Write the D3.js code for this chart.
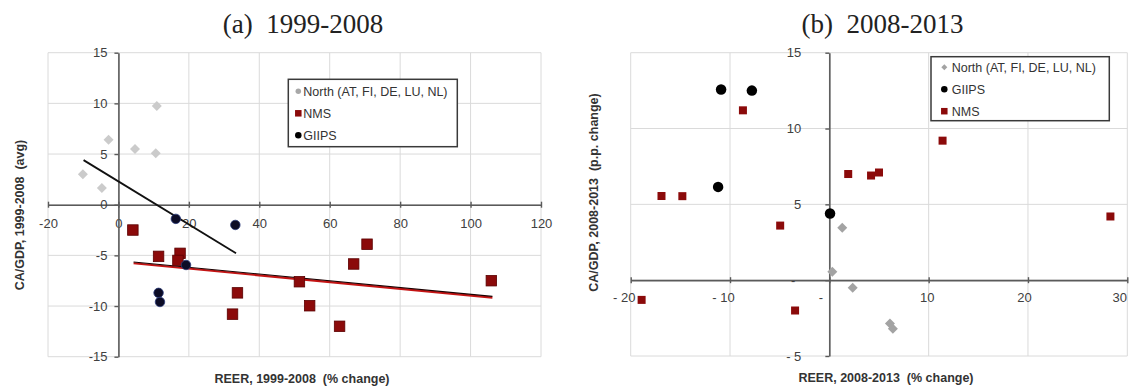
<!DOCTYPE html>
<html><head><meta charset="utf-8">
<script src="https://cdn.jsdelivr.net/npm/d3@7"></script>
<style>body{margin:0;background:#fff}svg{display:block}</style>
</head><body><svg id="c" width="1130" height="391"></svg>
<script>
// ---------- Panel (a) 1999-2008 ----------
const northA = [[-10.1,3.0],[-4.7,1.65],[-2.8,6.4],[4.7,5.5],[10.9,9.75],[10.6,5.07]];
const giipsA = [[16.3,-1.4],[33.2,-2.0],[19.2,-5.95],[11.4,-8.7],[11.8,-9.6]];
const nmsA = [[4.1,-2.5],[11.4,-5.1],[17.5,-4.8],[16.9,-5.5],[33.8,-8.7],[32.4,-10.8],
              [70.6,-3.9],[66.8,-5.85],[51.4,-7.6],[54.3,-9.97],[62.8,-12.0],[105.9,-7.5]];
const trendBlackA = [[-9.9,4.4],[33.4,-4.8]];
const trendRedA = [[4.3,-5.7],[106.2,-9.1]];
const xTicksA = [-20,0,20,40,60,80,100,120];
const yTicksA = [-15,-10,-5,0,5,10,15];
const xTickLabelsA = ["-20","0","20","40","60","80","100","120"];
const yTickLabelsA = ["-15","-10","-5","0","5","10","15"];
const legendA = ["North (AT, FI, DE, LU, NL)","NMS","GIIPS"];

// ---------- Panel (b) 2008-2013 ----------
const northB = [[1.3,3.45],[0.3,0.55],[2.35,-0.5],[6.1,-2.85],[6.4,-3.2]];
const giipsB = [[-10.9,12.57],[-7.8,12.5],[-11.2,6.15],[0.07,4.4]];
const nmsB = [[-8.7,11.2],[-16.9,5.55],[-14.8,5.54],[-4.95,3.6],[-18.9,-1.3],[-3.45,-2.0],
              [1.9,7.0],[4.2,6.9],[5.0,7.1],[11.4,9.2],[28.3,4.2]];
const xTicksB = [-20,-10,0,10,20,30];
const yTicksB = [-5,0,5,10,15];
const xTickLabelsB = ["- 20","- 10","-","10","20","30"];
const yTickLabelsB = ["- 5","-","5","10","15"];
const legendB = ["North (AT, FI, DE, LU, NL)","GIIPS","NMS"];

const svg = d3.select("#c");
svg.append("rect").attr("width",1130).attr("height",391).attr("fill","#fff");

const SANS = "'Liberation Sans', Arial, sans-serif";
const SERIF = "'Liberation Serif', 'DejaVu Serif', serif";

function marker(g, type, cx, cy, size, fill, stroke) {
  if (type === "square") {
    g.append("rect").attr("x", cx - size/2).attr("y", cy - size/2)
      .attr("width", size).attr("height", size).attr("fill", fill)
      .attr("stroke", stroke || "none").attr("stroke-width", 0.8);
  } else if (type === "circle") {
    g.append("circle").attr("cx", cx).attr("cy", cy).attr("r", size/2)
      .attr("fill", fill).attr("stroke", stroke || "none").attr("stroke-width", 0.8);
  } else {
    const h = size/2;
    g.append("path").attr("d", `M${cx},${cy-h}L${cx+h},${cy}L${cx},${cy+h}L${cx-h},${cy}Z`)
      .attr("fill", fill);
  }
}

function panel(cfg) {
  const x = d3.scaleLinear().domain(cfg.xDom).range(cfg.xRange);
  const y = d3.scaleLinear().domain(cfg.yDom).range(cfg.yRange);
  const g = svg.append("g");

  // gridlines
  g.selectAll(".gx").data(cfg.xGrid).join("line")
    .attr("x1", d => x(d)).attr("x2", d => x(d))
    .attr("y1", y(cfg.yDom[0])).attr("y2", y(cfg.yDom[1]))
    .attr("stroke", "#dadada").attr("stroke-width", 1);
  g.selectAll(".gy").data(cfg.yGrid).join("line")
    .attr("y1", d => y(d)).attr("y2", d => y(d))
    .attr("x1", x(cfg.xDom[0])).attr("x2", x(cfg.xDom[1]))
    .attr("stroke", "#dadada").attr("stroke-width", 1);

  // x axis through y = 0
  const xa = g.append("g").attr("transform", `translate(0,${y(0)})`)
    .call(d3.axisBottom(x).tickValues(cfg.xTicks).tickSizeOuter(0).tickSizeInner(3)
      .tickFormat((d,i) => cfg.xLabels[i]));
  xa.select(".domain").attr("stroke", "#5a5a5a").attr("stroke-width", 1.6);
  xa.selectAll(".tick line").attr("y1", -3).attr("y2", 3).attr("stroke", "#5a5a5a").attr("stroke-width", 1.4);
  xa.selectAll(".tick text").attr("y", cfg.xLabelY).attr("dy", 0)
    .attr("dx", (d,i) => cfg.xLabelDx ? cfg.xLabelDx[i] : 0)
    .attr("font-family", SANS).attr("font-size", 13).attr("fill", "#404040");

  // y axis through x = 0
  const ya = g.append("g").attr("transform", `translate(${x(0)},0)`)
    .call(d3.axisLeft(y).tickValues(cfg.yTicks).tickSizeOuter(0).tickSizeInner(4)
      .tickFormat((d,i) => cfg.yLabels[i]));
  ya.select(".domain").attr("stroke", "#5a5a5a").attr("stroke-width", 1.6);
  ya.selectAll(".tick line").attr("stroke", "#5a5a5a").attr("stroke-width", 1.4);
  ya.selectAll(".tick text").attr("x", (d,i) => -cfg.yLabelOff - (cfg.yLabelExtra ? cfg.yLabelExtra[i] : 0))
    .attr("font-family", SANS).attr("font-size", 13).attr("fill", "#404040");

  // trend lines
  const line = d3.line().x(d => x(d[0])).y(d => y(d[1]));
  (cfg.trends || []).forEach(t => {
    if (t.under) g.append("path").attr("d", line(t.data)).attr("fill", "none")
      .attr("stroke", t.under).attr("stroke-width", 2.2).attr("transform", "translate(0,0.8)");
    g.append("path").attr("d", line(t.data)).attr("fill", "none")
      .attr("stroke", t.color).attr("stroke-width", t.width)
      .attr("transform", t.under ? "translate(0,-0.5)" : null);
  });

  // points
  cfg.series.forEach(s => {
    s.data.forEach(d => marker(g, s.type, x(d[0]), y(d[1]), s.size, s.fill, s.stroke));
  });

  // legend
  const L = cfg.legend;
  g.append("rect").attr("x", L.x).attr("y", L.y).attr("width", L.w).attr("height", L.h)
    .attr("fill", "#fff").attr("stroke", "#3a3a3a").attr("stroke-width", 1.5);
  L.items.forEach((it, i) => {
    const cy = L.y + L.first + i * L.step;
    marker(g, it.type, L.x + L.mx, cy, it.size, it.fill);
    g.append("text").attr("x", L.x + L.tx).attr("y", cy + 4.5)
      .attr("font-family", SANS).attr("font-size", 12.5).attr("fill", "#333")
      .text(it.label);
  });

  // axis titles
  g.append("text").attr("x", cfg.xTitle.x).attr("y", cfg.xTitle.y).attr("text-anchor", "middle")
    .attr("font-family", SANS).attr("font-weight", "bold").attr("font-size", 12.5)
    .attr("fill", "#333").style("white-space", "pre").text(cfg.xTitle.text);
  g.append("text").attr("transform", `translate(${cfg.yTitle.x},${cfg.yTitle.y}) rotate(-90)`)
    .attr("text-anchor", "middle")
    .attr("font-family", SANS).attr("font-weight", "bold").attr("font-size", 12.5)
    .attr("fill", "#333").style("white-space", "pre").text(cfg.yTitle.text);

  // panel title
  g.append("text").attr("x", cfg.title.x).attr("y", cfg.title.y).attr("text-anchor", "middle")
    .attr("font-family", SERIF).attr("font-size", 27).attr("fill", "#222")
    .style("white-space", "pre").text(cfg.title.text);
}

const RED = "#8b0a0a", NAVY = "#0c0c26";

panel({
  xDom: [-20, 120], xRange: [48, 541],
  yDom: [-15, 15], yRange: [356.7, 52.7],
  xGrid: xTicksA, yGrid: yTicksA,
  xTicks: xTicksA, yTicks: yTicksA, xLabels: xTickLabelsA, yLabels: yTickLabelsA,
  xLabelY: 23, yLabelOff: 11,
  trends: [
    {data: trendBlackA, color: "#111", width: 1.8},
    {data: trendRedA, color: "#1a0000", width: 1.1, under: "#c41414"}
  ],
  series: [
    {data: northA, type: "diamond", size: 10, fill: "#cbcbcb"},
    {data: nmsA, type: "square", size: 10.5, fill: RED, stroke: "#5a0000"},
    {data: giipsA, type: "circle", size: 9.5, fill: NAVY, stroke: "#2a3a7a"}
  ],
  legend: {x: 288.3, y: 79.3, w: 169, h: 67.4, first: 12, step: 22, mx: 10, tx: 15,
    items: [
      {label: legendA[0], type: "circle", size: 5.5, fill: "#a8a8a8"},
      {label: legendA[1], type: "square", size: 6.5, fill: RED},
      {label: legendA[2], type: "circle", size: 6.5, fill: "#000"}
    ]},
  xTitle: {x: 302, y: 383, text: "REER, 1999-2008  (% change)"},
  yTitle: {x: 24, y: 215, text: "CA/GDP, 1999-2008  (avg)"},
  title: {x: 303, y: 33, text: "(a)  1999-2008"}
});

panel({
  xDom: [-20, 30], xRange: [630.7, 1127.3],
  yDom: [-5, 15], yRange: [356, 52.7],
  xGrid: xTicksB, yGrid: yTicksB,
  xTicks: xTicksB, yTicks: yTicksB, xLabels: xTickLabelsB, yLabels: yTickLabelsB,
  xLabelY: 22, xLabelDx: [-7,-7,-9,-2,-4,-8], yLabelOff: 28, yLabelExtra: [0,6,0,0,0],
  trends: [],
  series: [
    {data: northB, type: "diamond", size: 10, fill: "#a3a3a3"},
    {data: nmsB, type: "square", size: 8, fill: RED},
    {data: giipsB, type: "circle", size: 10.5, fill: "#000"}
  ],
  legend: {x: 931, y: 56.7, w: 178.3, h: 64, first: 10.5, step: 22, mx: 13.3, tx: 20.7,
    items: [
      {label: legendB[0], type: "diamond", size: 6, fill: "#a3a3a3"},
      {label: legendB[1], type: "circle", size: 6.5, fill: "#000"},
      {label: legendB[2], type: "square", size: 6.5, fill: RED}
    ]},
  xTitle: {x: 886, y: 382, text: "REER, 2008-2013  (% change)"},
  yTitle: {x: 598, y: 192.5, text: "CA/GDP, 2008-2013  (p.p. change)"},
  title: {x: 882.5, y: 33, text: "(b)  2008-2013"}
});
</script></body></html>
